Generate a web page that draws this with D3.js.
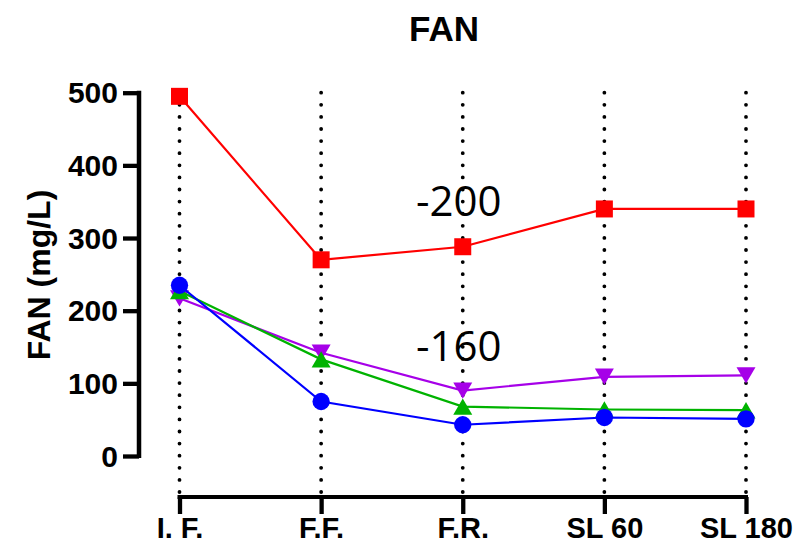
<!DOCTYPE html>
<html>
<head>
<meta charset="utf-8">
<script src="https://cdn.jsdelivr.net/npm/d3@7"></script>
<style>
  html, body { margin: 0; padding: 0; background: #fff; }
  svg { display: block; }
</style>
</head>
<body>
<svg id="chart" width="797" height="545"></svg>
<script>
// ---- data ----
const categories = ["I. F.", "F.F.", "F.R.", "SL 60", "SL 180"];
const seriesRed    = [495, 270, 288, 340, 340];
const seriesPurple = [217, 142, 90, 109, 111];
const seriesGreen  = [227, 133, 68, 64, 63];
const seriesBlue   = [235, 75, 43, 53, 51];
const yTicks = [0, 100, 200, 300, 400, 500];
const annotationTexts = ["-200", "-160"];
const annotationCats  = ["F.R.", "F.R."];
const annotationVals  = [330, 131];
const titleText = "FAN";
const yTitle = "FAN (mg/L)";

// ---- layout ----
const svg = d3.select("#chart");
const x = d3.scalePoint().domain(categories).range([179.5, 746]);
const y = d3.scaleLinear().domain([0, 500]).range([456, 92.7]);

const FONT = "'Liberation Sans', Arial, sans-serif";

// title
svg.append("text")
  .attr("x", 444).attr("y", 41)
  .attr("text-anchor", "middle")
  .attr("font-family", FONT).attr("font-weight", "bold").attr("font-size", 35)
  .text(titleText);

// dotted vertical guides
svg.append("g").selectAll("line").data(categories).join("line")
  .attr("x1", d => x(d)).attr("x2", d => x(d))
  .attr("y1", y(500)).attr("y2", 498)
  .attr("stroke", "#000").attr("stroke-width", 3.8)
  .attr("stroke-linecap", "round")
  .attr("stroke-dasharray", "0 12.1");

// y axis
const yAxis = d3.axisLeft(y).tickValues(yTicks).tickSize(16).tickPadding(5).tickSizeOuter(0);
const gy = svg.append("g").attr("transform", "translate(139,0)").call(yAxis);
gy.select(".domain").attr("stroke", "#000").attr("stroke-width", 4.5)
  .attr("d", `M0,${y(500) - 2}V${y(0) + 2}`);
gy.selectAll(".tick line").attr("stroke", "#000").attr("stroke-width", 4.3);
gy.selectAll(".tick text")
  .attr("font-family", FONT).attr("font-weight", "bold").attr("font-size", 30)
  .attr("fill", "#000").attr("dy", "0.34em");

// y title
svg.append("text")
  .attr("transform", "translate(50,275) rotate(-90)")
  .attr("text-anchor", "middle")
  .attr("font-family", FONT).attr("font-weight", "bold").attr("font-size", 32)
  .text(yTitle);

// x axis
const xAxis = d3.axisBottom(x).tickSize(17).tickPadding(3.5).tickSizeOuter(0);
const gx = svg.append("g").attr("transform", "translate(0,497)").call(xAxis);
gx.select(".domain").attr("stroke", "#000").attr("stroke-width", 4)
  .attr("d", `M${x(categories[0]) - 2},0H${x(categories[categories.length - 1]) + 2}`);
gx.selectAll(".tick line").attr("stroke", "#000").attr("stroke-width", 4.3);
gx.selectAll(".tick text")
  .attr("font-family", FONT).attr("font-weight", "bold").attr("font-size", 29)
  .attr("fill", "#000");

// custom triangle symbols (width ~19, height ~16, centered on bbox)
const triUp = { draw(ctx, size) { const w = 9.5, h = 8.2; ctx.moveTo(0, -h); ctx.lineTo(w, h); ctx.lineTo(-w, h); ctx.closePath(); } };
const triDown = { draw(ctx, size) { const w = 9.5, h = 8.2; ctx.moveTo(0, h); ctx.lineTo(w, -h); ctx.lineTo(-w, -h); ctx.closePath(); } };

const series = [
  { values: seriesRed,    color: "#FF0000", symbol: d3.symbolSquare, size: 289 },
  { values: seriesPurple, color: "#A600E8", symbol: triDown,         size: 1 },
  { values: seriesGreen,  color: "#00B300", symbol: triUp,           size: 1 },
  { values: seriesBlue,   color: "#0000FF", symbol: d3.symbolCircle, size: 235 }
];

const line = d3.line().x((d, i) => x(categories[i])).y(d => y(d));

series.forEach(s => {
  const g = svg.append("g");
  g.append("path").datum(s.values)
    .attr("d", line).attr("fill", "none")
    .attr("stroke", s.color).attr("stroke-width", 2.2);
  g.selectAll("path.m").data(s.values).join("path").attr("class", "m")
    .attr("transform", (d, i) => `translate(${x(categories[i])},${y(d)})`)
    .attr("d", d3.symbol().type(s.symbol).size(s.size))
    .attr("fill", s.color);
});

// annotations
svg.append("g").selectAll("text").data(annotationTexts).join("text")
  .attr("x", (d, i) => x(annotationCats[i]) - 4)
  .attr("y", (d, i) => y(annotationVals[i]))
  .attr("text-anchor", "middle")
  .attr("font-family", "'Open Sans', sans-serif").attr("font-size", 42)
  .attr("fill", "#000")
  .text(d => d);
</script>
</body>
</html>
